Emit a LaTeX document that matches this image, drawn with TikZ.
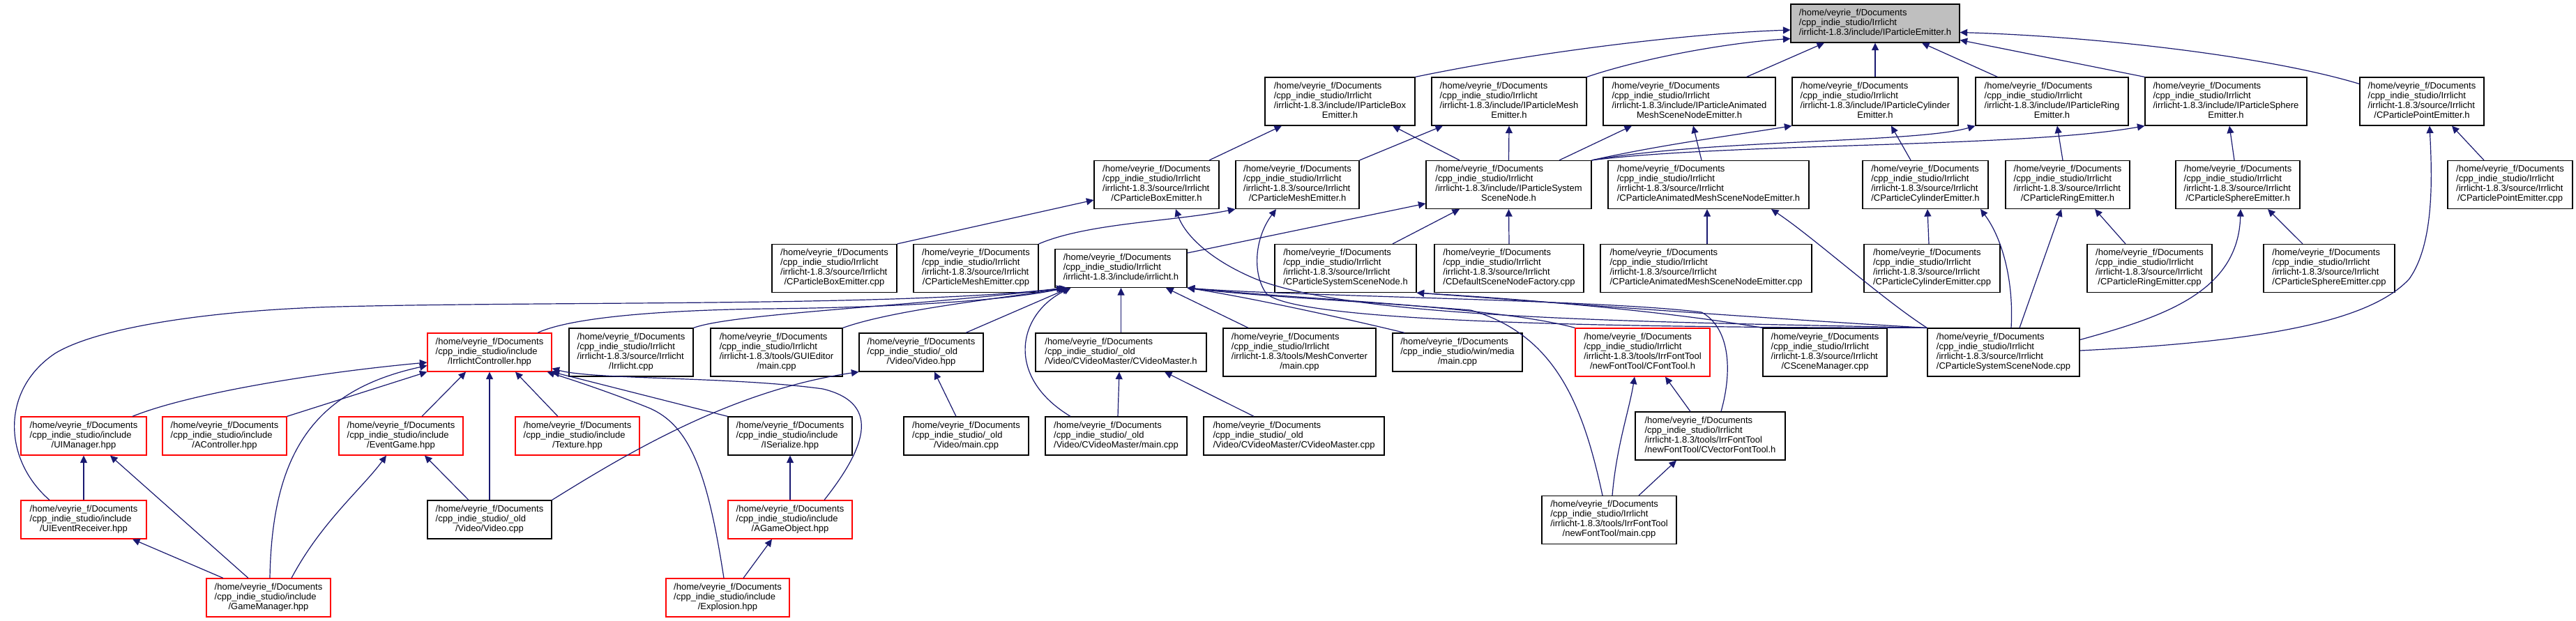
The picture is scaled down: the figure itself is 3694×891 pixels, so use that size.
\documentclass[tikz,border=0pt]{standalone}
\usepackage{fontspec}
\setmainfont{Liberation Sans}
\usetikzlibrary{arrows.meta}
\definecolor{eblue}{HTML}{191970}
\definecolor{bred}{HTML}{FF0000}
\definecolor{gfill}{HTML}{BFBFBF}
\newcommand\DxHome{/home/veyrie\_f/Documents}
\newcommand\DxIrr{/cpp\_indie\_studio/Irrlicht}
\newcommand\DxInc{/cpp\_indie\_studio/include}
\newcommand\DxOld{/cpp\_indie\_studio/\_old}
\newcommand\DxSrc{/irrlicht-1.8.3/source/Irrlicht}
\newcommand\DxFont{/irrlicht-1.8.3/tools/IrrFontTool}
\newcommand\DxFour[4]{\begin{tabular}{@{}l@{}}#1\\#2\\#3\\\multicolumn{1}{@{}c@{}}{#4}\end{tabular}}
\newcommand\DxThree[3]{\begin{tabular}{@{}l@{}}#1\\#2\\\multicolumn{1}{@{}c@{}}{#3}\end{tabular}}
\tikzset{
  box/.style={draw=black, line width=1.2pt, fill=white, inner sep=0pt,
    font=\fontsize{13}{14}\selectfont},
  bfour/.style={box, minimum height=69},
  bthree/.style={box, minimum height=55},
  rbox/.style={draw=bred},
  gbox/.style={fill=gfill},
  incl/.style={draw=eblue, line width=1.2pt, -{Triangle[length=10.5pt,width=10pt]}}
}
\begin{document}
\begin{tikzpicture}[x=1pt,y=-1pt]
\useasboundingbox (0,0) rectangle (3694,891);
\fill[white] (0,0) rectangle (3694,891);
% row 1
\node[bthree,gbox,minimum width=242] (gray) at (2689,33.5) {\DxThree{\DxHome}{\DxIrr}{/irrlicht-1.8.3/include/IParticleEmitter.h}};
% row 2
\node[bfour,minimum width=215] (pbox) at (1921.5,145.5) {\DxFour{\DxHome}{\DxIrr}{/irrlicht-1.8.3/include/IParticleBox}{Emitter.h}};
\node[bfour,minimum width=222] (pmesh) at (2164,145.5) {\DxFour{\DxHome}{\DxIrr}{/irrlicht-1.8.3/include/IParticleMesh}{Emitter.h}};
\node[bfour,minimum width=247] (panim) at (2422.5,145.5) {\DxFour{\DxHome}{\DxIrr}{/irrlicht-1.8.3/include/IParticleAnimated}{MeshSceneNodeEmitter.h}};
\node[bfour,minimum width=238] (pcyl) at (2689,145.5) {\DxFour{\DxHome}{\DxIrr}{/irrlicht-1.8.3/include/IParticleCylinder}{Emitter.h}};
\node[bfour,minimum width=219] (pring) at (2942.5,145.5) {\DxFour{\DxHome}{\DxIrr}{/irrlicht-1.8.3/include/IParticleRing}{Emitter.h}};
\node[bfour,minimum width=232] (psph) at (3192,145.5) {\DxFour{\DxHome}{\DxIrr}{/irrlicht-1.8.3/include/IParticleSphere}{Emitter.h}};
\node[bfour,minimum width=178] (cpointh) at (3473,145.5) {\DxFour{\DxHome}{\DxIrr}{\DxSrc}{/CParticlePointEmitter.h}};
% row 3
\node[bfour,minimum width=179] (cboxh) at (1658.5,265) {\DxFour{\DxHome}{\DxIrr}{\DxSrc}{/CParticleBoxEmitter.h}};
\node[bfour,minimum width=177] (cmeshh) at (1860.5,265) {\DxFour{\DxHome}{\DxIrr}{\DxSrc}{/CParticleMeshEmitter.h}};
\node[bfour,minimum width=237] (psys) at (2163.5,265) {\DxFour{\DxHome}{\DxIrr}{/irrlicht-1.8.3/include/IParticleSystem}{SceneNode.h}};
\node[bfour,minimum width=288] (canimh) at (2450,265) {\DxFour{\DxHome}{\DxIrr}{\DxSrc}{/CParticleAnimatedMeshSceneNodeEmitter.h}};
\node[bfour,minimum width=180] (ccylh) at (2761,265) {\DxFour{\DxHome}{\DxIrr}{\DxSrc}{/CParticleCylinderEmitter.h}};
\node[bfour,minimum width=178] (cringh) at (2965,265) {\DxFour{\DxHome}{\DxIrr}{\DxSrc}{/CParticleRingEmitter.h}};
\node[bfour,minimum width=178] (csphh) at (3209,265) {\DxFour{\DxHome}{\DxIrr}{\DxSrc}{/CParticleSphereEmitter.h}};
\node[bfour,minimum width=179] (cpointcpp) at (3599.5,265) {\DxFour{\DxHome}{\DxIrr}{\DxSrc}{/CParticlePointEmitter.cpp}};
% row 4
\node[bfour,minimum width=179] (cboxcpp) at (1196.5,385) {\DxFour{\DxHome}{\DxIrr}{\DxSrc}{/CParticleBoxEmitter.cpp}};
\node[bfour,minimum width=179] (cmeshcpp) at (1399.5,385) {\DxFour{\DxHome}{\DxIrr}{\DxSrc}{/CParticleMeshEmitter.cpp}};
\node[bthree,minimum width=189] (irrh) at (1607.5,385) {\DxThree{\DxHome}{\DxIrr}{/irrlicht-1.8.3/include/irrlicht.h}};
\node[bfour,minimum width=203] (csysh) at (1929.5,385) {\DxFour{\DxHome}{\DxIrr}{\DxSrc}{/CParticleSystemSceneNode.h}};
\node[bfour,minimum width=214] (cdef) at (2164,385) {\DxFour{\DxHome}{\DxIrr}{\DxSrc}{/CDefaultSceneNodeFactory.cpp}};
\node[bfour,minimum width=303] (canimcpp) at (2446.5,385) {\DxFour{\DxHome}{\DxIrr}{\DxSrc}{/CParticleAnimatedMeshSceneNodeEmitter.cpp}};
\node[bfour,minimum width=195] (ccylcpp) at (2770.5,385) {\DxFour{\DxHome}{\DxIrr}{\DxSrc}{/CParticleCylinderEmitter.cpp}};
\node[bfour,minimum width=179] (cringcpp) at (3082.5,385) {\DxFour{\DxHome}{\DxIrr}{\DxSrc}{/CParticleRingEmitter.cpp}};
\node[bfour,minimum width=188] (csphcpp) at (3340,385) {\DxFour{\DxHome}{\DxIrr}{\DxSrc}{/CParticleSphereEmitter.cpp}};
% row 5
\node[bthree,rbox,minimum width=178] (ictrl) at (702,505.5) {\DxThree{\DxHome}{\DxInc}{/IrrlichtController.hpp}};
\node[bfour,minimum width=178] (irrcpp) at (905,505.5) {\DxFour{\DxHome}{\DxIrr}{\DxSrc}{/Irrlicht.cpp}};
\node[bfour,minimum width=189] (guimain) at (1113.5,505.5) {\DxFour{\DxHome}{\DxIrr}{/irrlicht-1.8.3/tools/GUIEditor}{/main.cpp}};
\node[bthree,minimum width=178] (videohpp) at (1321,505.5) {\DxThree{\DxHome}{\DxOld}{/Video/Video.hpp}};
\node[bthree,minimum width=245] (cvmh) at (1607.5,505.5) {\DxThree{\DxHome}{\DxOld}{/Video/CVideoMaster/CVideoMaster.h}};
\node[bfour,minimum width=219] (meshconv) at (1863.5,505.5) {\DxFour{\DxHome}{\DxIrr}{/irrlicht-1.8.3/tools/MeshConverter}{/main.cpp}};
\node[bthree,minimum width=186] (winmain) at (2090,505.5) {\DxThree{\DxHome}{/cpp\_indie\_studio/win/media}{/main.cpp}};
\node[bfour,rbox,minimum width=193] (cfonth) at (2355.5,505.5) {\DxFour{\DxHome}{\DxIrr}{\DxFont}{/newFontTool/CFontTool.h}};
\node[bfour,minimum width=178] (cscene) at (2617,505.5) {\DxFour{\DxHome}{\DxIrr}{\DxSrc}{/CSceneManager.cpp}};
\node[bfour,minimum width=218] (csyscpp) at (2873,505.5) {\DxFour{\DxHome}{\DxIrr}{\DxSrc}{/CParticleSystemSceneNode.cpp}};
% row 6
\node[bthree,rbox,minimum width=180] (uimgr) at (120,625.5) {\DxThree{\DxHome}{\DxInc}{/UIManager.hpp}};
\node[bthree,rbox,minimum width=178] (actrl) at (322,625.5) {\DxThree{\DxHome}{\DxInc}{/AController.hpp}};
\node[bthree,rbox,minimum width=178] (evgame) at (575,625.5) {\DxThree{\DxHome}{\DxInc}{/EventGame.hpp}};
\node[bthree,rbox,minimum width=178] (texture) at (828,625.5) {\DxThree{\DxHome}{\DxInc}{/Texture.hpp}};
\node[bthree,minimum width=178] (iser) at (1133,625.5) {\DxThree{\DxHome}{\DxInc}{/ISerialize.hpp}};
\node[bthree,minimum width=179] (vmain) at (1385.5,625.5) {\DxThree{\DxHome}{\DxOld}{/Video/main.cpp}};
\node[bthree,minimum width=203] (cvmmain) at (1600.5,625.5) {\DxThree{\DxHome}{\DxOld}{/Video/CVideoMaster/main.cpp}};
\node[bthree,minimum width=259] (cvmcpp) at (1855.5,625.5) {\DxThree{\DxHome}{\DxOld}{/Video/CVideoMaster/CVideoMaster.cpp}};
\node[bfour,minimum width=215] (cvecfont) at (2452.5,625.5) {\DxFour{\DxHome}{\DxIrr}{\DxFont}{/newFontTool/CVectorFontTool.h}};
% row 7
\node[bthree,rbox,minimum width=180] (uirecv) at (120,745.5) {\DxThree{\DxHome}{\DxInc}{/UIEventReceiver.hpp}};
\node[bthree,minimum width=178] (videocpp) at (702,745.5) {\DxThree{\DxHome}{\DxOld}{/Video/Video.cpp}};
\node[bthree,rbox,minimum width=178] (agame) at (1133,745.5) {\DxThree{\DxHome}{\DxInc}{/AGameObject.hpp}};
\node[bfour,minimum width=193] (nftmain) at (2307.5,746) {\DxFour{\DxHome}{\DxIrr}{\DxFont}{/newFontTool/main.cpp}};
% row 8
\node[bthree,rbox,minimum width=178] (gamemgr) at (385,857.5) {\DxThree{\DxHome}{\DxInc}{/GameManager.hpp}};
\node[bthree,rbox,minimum width=177] (explosion) at (1043.5,857.5) {\DxThree{\DxHome}{\DxInc}{/Explosion.hpp}};

% ---- edges into IParticleEmitter.h
\draw[incl] (pbox.north east) .. controls (2200,75) and (2420,48) .. ([yshift=-9.5pt]gray.west);
\draw[incl] (pmesh.north east) .. controls (2350,85) and (2470,62) .. ([yshift=-22pt]gray.west);
\draw[incl] ([xshift=82pt]panim.north) -- ([xshift=-73pt]gray.south);
\draw[incl] (pcyl.north) -- (gray.south);
\draw[incl] ([xshift=-78pt]pring.north) -- ([xshift=67pt]gray.south);
\draw[incl] (psph.north west) -- ([yshift=-24pt]gray.east);
\draw[incl] ([yshift=-10pt]cpointh.north west) .. controls (3250,80) and (3000,52) .. ([yshift=-13pt]gray.east);
% ---- row 3 -> row 2
\draw[incl] ([xshift=75.5pt]cboxh.north) -- ([xshift=-83.5pt]pbox.south);
\draw[incl] ([xshift=-70.5pt]psys.north) -- ([xshift=75.5pt]pbox.south);
\draw[incl] (cmeshh.north east) -- ([xshift=-95pt]pmesh.south);
\draw[incl] (psys.north) -- (pmesh.south);
\draw[incl] ([xshift=72.5pt]psys.north) -- ([xshift=-82.5pt]panim.south);
\draw[incl] ([xshift=-10pt]canimh.north) -- ([xshift=5.5pt]panim.south);
\draw[incl] (psys.north east) .. controls (2380,208) and (2480,195) .. (pcyl.south west);
\draw[incl] (psys.north east) .. controls (2450,200) and (2750,205) .. (pring.south west);
\draw[incl] (psys.north east) .. controls (2480,205) and (2900,212) .. (psph.south west);
\draw[incl] ([xshift=-21pt]ccylh.north) -- ([xshift=23pt]pcyl.south);
\draw[incl] ([xshift=-7pt]cringh.north) -- ([xshift=7.5pt]pring.south);
\draw[incl] ([xshift=-5pt]csphh.north) -- ([xshift=5pt]psph.south);
\draw[incl] ([xshift=-37.5pt]cpointcpp.north) -- ([xshift=43pt]cpointh.south);
% ---- CParticleSystemSceneNode.cpp
\draw[incl] ([yshift=2.5pt]csyscpp.east) .. controls (3250,490) and (3400,460) .. (3455,400) .. controls (3490,350) and (3488,260) .. ([xshift=11pt]cpointh.south);
\draw[incl] ([yshift=18pt]csyscpp.east) .. controls (3100,455) and (3210,420) .. ([xshift=4pt]csphh.south);
\draw[incl] ([xshift=23pt]csyscpp.north) -- ([xshift=-9pt]cringh.south);
\draw[incl] ([xshift=11pt]csyscpp.north) .. controls (2888,400) and (2870,340) .. ([xshift=79pt]ccylh.south);
\draw[incl] (csyscpp.north west) .. controls (2700,430) and (2600,340) .. ([xshift=90pt]canimh.south);
\draw[incl] (csyscpp.north west) .. controls (2400,462) and (1950,460) .. (1800,400) .. controls (1740,375) and (1700,340) .. ([xshift=27.5pt]cboxh.south);
\draw[incl] (csyscpp.north west) .. controls (2300,470) and (1850,462) .. (1815,420) .. controls (1795,390) and (1800,340) .. ([xshift=-30.5pt]cmeshh.south);
\draw[incl] (csyscpp.north west) .. controls (2500,455) and (2200,432) .. (csysh.south east);
\draw[incl] (cscene.north west) .. controls (2400,448) and (2200,430) .. (csysh.south east);
% ---- row 4 -> row 3
\draw[incl] (cboxcpp.north east) -- ([yshift=-22pt]cboxh.west);
\draw[incl] (cmeshcpp.north east) .. controls (1560,320) and (1680,318) .. (cmeshh.south west);
\draw[incl] ([yshift=22pt]irrh.east) -- ([yshift=-27pt]psys.west);
\draw[incl] ([xshift=67.5pt]csysh.north) -- ([xshift=-70.5pt]psys.south);
\draw[incl] (cdef.north) -- (psys.south);
\draw[incl] ([xshift=1.5pt]canimcpp.north) -- ([xshift=-2pt]canimh.south);
\draw[incl] ([xshift=-4.5pt]ccylcpp.north) -- ([xshift=3pt]ccylh.south);
\draw[incl] ([xshift=-34.5pt]cringcpp.north) -- ([xshift=39pt]cringh.south);
\draw[incl] ([xshift=-38pt]csphcpp.north) -- ([xshift=43pt]csphh.south);
% ---- into irrlicht.h
\draw[incl] ([xshift=-49pt]uirecv.north) .. controls (5,660) and (0,560) .. (79,507) .. controls (140,470) and (300,445) .. (486,440) .. controls (800,432) and (1300,440) .. ([xshift=-82pt]irrh.south);
\draw[incl] ([xshift=69pt]ictrl.north) .. controls (820,455) and (950,445) .. (1100,443) .. controls (1300,441) and (1450,430) .. ([xshift=-80pt]irrh.south);
\draw[incl] (irrcpp.north east) .. controls (1050,450) and (1300,440) .. ([xshift=-78pt]irrh.south);
\draw[incl] (guimain.north east) .. controls (1280,445) and (1420,430) .. ([xshift=-76pt]irrh.south);
\draw[incl] ([xshift=64pt]videohpp.north) -- ([xshift=-74pt]irrh.south);
\draw[incl] ([xshift=-65.5pt]cvmmain.north) .. controls (1440,540) and (1460,450) .. ([xshift=-72pt]irrh.south);
\draw[incl] (cvmh.north) -- (irrh.south);
\draw[incl] ([xshift=-73.5pt]meshconv.north) -- ([xshift=64.5pt]irrh.south);
\draw[incl] ([xshift=-76pt]winmain.north) .. controls (1900,450) and (1780,425) .. (irrh.south east);
\draw[incl] (cfonth.north west) .. controls (2150,440) and (1850,428) .. (irrh.south east);
\draw[incl] ([xshift=-9.5pt]nftmain.north) .. controls (2270,580) and (2230,480) .. (2109,445) .. controls (1950,432) and (1800,425) .. (irrh.south east);
\draw[incl] ([xshift=15.5pt]cvecfont.north) .. controls (2485,530) and (2480,470) .. (2440,448) .. controls (2300,430) and (1850,425) .. (irrh.south east);
% ---- into IrrlichtController.hpp
\draw[incl] ([xshift=70pt]uimgr.north) .. controls (270,565) and (450,535) .. ([yshift=-14.5pt]ictrl.west);
\draw[incl] (actrl.north east) -- (ictrl.south west);
\draw[incl] ([xshift=2pt]gamemgr.north) .. controls (390,650) and (450,560) .. ([yshift=-19pt]ictrl.west);
\draw[incl] ([xshift=30pt]evgame.north) -- ([xshift=-34pt]ictrl.south);
\draw[incl] ([xshift=-28pt]texture.north) -- ([xshift=37pt]ictrl.south);
\draw[incl] (iser.north west) -- (ictrl.south east);
\draw[incl] (videocpp.north) -- (ictrl.south);
\draw[incl] ([xshift=-5.5pt]explosion.north) .. controls (1015,680) and (990,610) .. (930,585) .. controls (880,565) and (830,548) .. ([xshift=-7pt]ictrl.south east);
\draw[incl] ([xshift=49pt]agame.north) .. controls (1235,650) and (1270,580) .. (1180,558) .. controls (1050,540) and (850,545) .. ([yshift=5pt]ictrl.south east);
% ---- game files
\draw[incl] (uirecv.north) -- (uimgr.south);
\draw[incl] ([xshift=-29pt]gamemgr.north) -- ([xshift=38pt]uimgr.south);
\draw[incl] ([xshift=-65pt]gamemgr.north) -- ([xshift=70pt]uirecv.south);
\draw[incl] ([xshift=33pt]gamemgr.north) .. controls (460,750) and (520,700) .. ([xshift=-21pt]evgame.south);
\draw[incl] ([xshift=-30pt]videocpp.north) -- ([xshift=34pt]evgame.south);
\draw[incl] (videocpp.north east) .. controls (900,650) and (1050,560) .. (videohpp.south west);
\draw[incl] (agame.north) -- (iser.south);
\draw[incl] ([xshift=22.5pt]explosion.north) -- ([xshift=-26pt]agame.south);
\draw[incl] ([xshift=-14.5pt]vmain.north) -- ([xshift=19pt]videohpp.south);
\draw[incl] ([xshift=2.5pt]cvmmain.north) -- ([xshift=-2.5pt]cvmh.south);
\draw[incl] ([xshift=-57.5pt]cvmcpp.north) -- ([xshift=62.5pt]cvmh.south);
\draw[incl] ([xshift=4.5pt]nftmain.north) .. controls (2318,640) and (2336,590) .. ([xshift=-11.5pt]cfonth.south);
\draw[incl] ([xshift=42.5pt]nftmain.north) -- ([xshift=-48.5pt]cvecfont.south);
\draw[incl] ([xshift=-28.5pt]cvecfont.north) -- ([xshift=32.5pt]cfonth.south);
\end{tikzpicture}
\end{document}
